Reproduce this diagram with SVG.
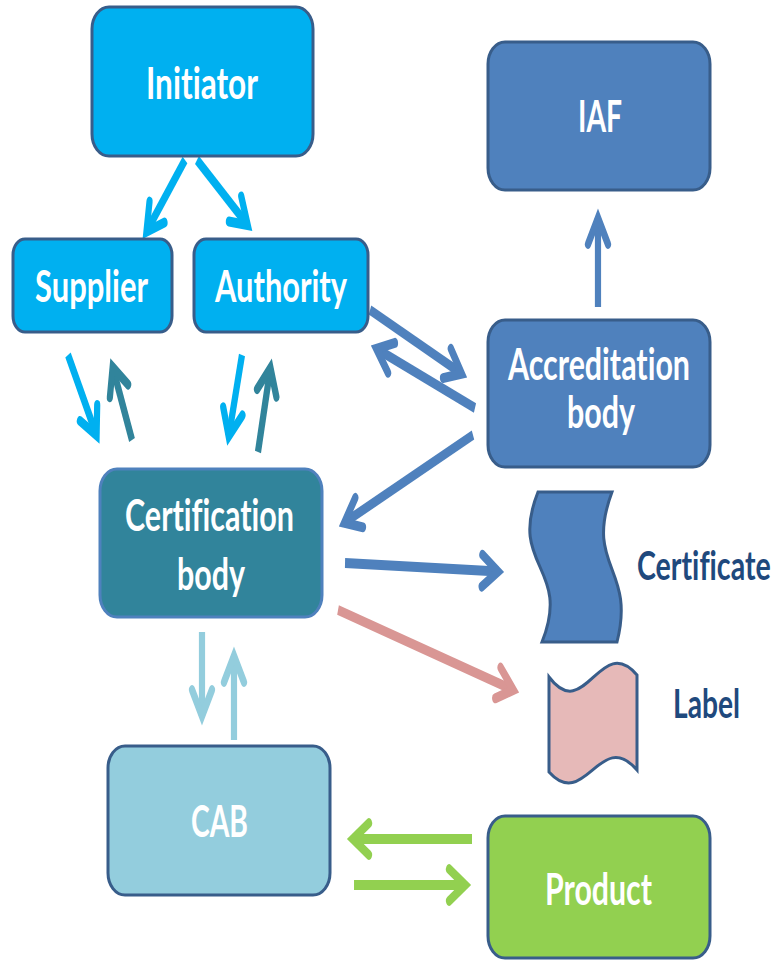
<svg xmlns="http://www.w3.org/2000/svg" width="784" height="961" viewBox="0 0 784 961">
<style>
.box{stroke:#385d8a;stroke-width:3}
.t{font-family:Lato,"Liberation Sans",sans-serif;font-weight:bold;font-size:43px;fill:#ffffff;font-variant-ligatures:none;font-feature-settings:"liga" 0,"clig" 0}
.d{font-family:Lato,"Liberation Sans",sans-serif;font-weight:bold;font-size:41px;fill:#1f497d;font-variant-ligatures:none;font-feature-settings:"liga" 0,"clig" 0}
.c{fill:none;stroke-width:10;stroke-linecap:butt}
.cy{stroke:#00b0f0;marker-end:url(#mCy)}
.tl{stroke:#31849b;marker-end:url(#mTl)}
.bl{stroke:#4f81bd;marker-end:url(#mBl)}
.pk{stroke:#d99694;marker-end:url(#mPk)}
.lb{stroke:#93cddd;marker-end:url(#mLb)}
.gr{stroke:#92d050;marker-end:url(#mGr)}
.mk{fill:none;stroke-width:10;stroke-linecap:round;stroke-linejoin:miter}
</style>
<defs>
<marker id="mCy" markerUnits="userSpaceOnUse" orient="auto" overflow="visible" refX="0" refY="0"><path class="mk" stroke="#00b0f0" d="M-26,-16 L0,0 L-26,16"/></marker>
<marker id="mTl" markerUnits="userSpaceOnUse" orient="auto" overflow="visible" refX="0" refY="0"><path class="mk" stroke="#31849b" d="M-26,-16 L0,0 L-26,16"/></marker>
<marker id="mBl" markerUnits="userSpaceOnUse" orient="auto" overflow="visible" refX="0" refY="0"><path class="mk" stroke="#4f81bd" d="M-26,-16 L0,0 L-26,16"/></marker>
<marker id="mPk" markerUnits="userSpaceOnUse" orient="auto" overflow="visible" refX="0" refY="0"><path class="mk" stroke="#d99694" d="M-26,-16 L0,0 L-26,16"/></marker>
<marker id="mLb" markerUnits="userSpaceOnUse" orient="auto" overflow="visible" refX="0" refY="0"><path class="mk" stroke="#93cddd" d="M-26,-16 L0,0 L-26,16"/></marker>
<marker id="mGr" markerUnits="userSpaceOnUse" orient="auto" overflow="visible" refX="0" refY="0"><path class="mk" stroke="#92d050" d="M-26,-16 L0,0 L-26,16"/></marker>
</defs>

<g id="connectors" transform="scale(0.62 1)">
<path class="c cy" d="M298.4,160 L236.2,231.7"/>
<path class="c cy" d="M317.7,160 L399.5,225.1"/>
<path class="c cy" d="M109.7,355 L155.8,435.5"/>
<path class="c tl" d="M212.9,440 L181.7,367.1"/>
<path class="c cy" d="M390.3,355 L368.9,436.4"/>
<path class="c tl" d="M416.1,452 L436.2,367.7"/>
<path class="c bl" d="M596.8,310 L744.7,373.7"/>
<path class="c bl" d="M766.1,408 L607.1,348.8"/>
<path class="c bl" d="M762.9,435 L555.3,522.7"/>
<path class="c bl" d="M964.5,307 L964.5,218"/>
<path class="c bl" d="M556.5,563 L803.5,571.6"/>
<path class="c pk" d="M545.2,610 L828.1,690"/>
<path class="c lb" d="M325.8,632 L325.8,716"/>
<path class="c lb" d="M377.4,740 L377.4,656"/>
<path class="c gr" d="M761.3,839 L569.1,839"/>
<path class="c gr" d="M571,885 L750.3,885"/>
</g>

<g id="initiator">
<rect class="box" x="92" y="7" width="221" height="149" rx="17" ry="22" fill="#00b0f0"/>
<text class="t" x="146" y="99" textLength="112" lengthAdjust="spacingAndGlyphs">Initiator</text>
</g>
<g id="supplier">
<rect class="box" x="13" y="239" width="159" height="93" rx="12" ry="16" fill="#00b0f0"/>
<text class="t" x="35" y="302" textLength="113" lengthAdjust="spacingAndGlyphs">Supplier</text>
</g>
<g id="authority">
<rect class="box" x="194" y="239" width="174" height="93" rx="12" ry="16" fill="#00b0f0"/>
<text class="t" x="215" y="302" textLength="132" lengthAdjust="spacingAndGlyphs">Authority</text>
</g>
<g id="iaf">
<rect class="box" x="488" y="42" width="222" height="148" rx="17" ry="22" fill="#4f81bd"/>
<text class="t" x="578" y="132" textLength="44" lengthAdjust="spacingAndGlyphs">IAF</text>
</g>
<g id="accreditation-body">
<rect class="box" x="488" y="320" width="222" height="147" rx="17" ry="22" fill="#4f81bd"/>
<text class="t" x="508" y="380" textLength="182" lengthAdjust="spacingAndGlyphs">Accreditation</text>
<text class="t" x="567" y="428" textLength="68" lengthAdjust="spacingAndGlyphs">body</text>
</g>
<g id="certification-body">
<rect x="100" y="469" width="222" height="148" rx="17" ry="22" fill="#31849b" stroke="#4f81bd" stroke-width="3"/>
<text class="t" x="125" y="531" textLength="169" lengthAdjust="spacingAndGlyphs">Certification</text>
<text class="t" x="177" y="590" textLength="68" lengthAdjust="spacingAndGlyphs">body</text>
</g>
<g id="cab">
<rect class="box" x="108" y="746" width="222" height="149" rx="17" ry="22" fill="#93cddd"/>
<text class="t" x="191" y="837" textLength="57" lengthAdjust="spacingAndGlyphs">CAB</text>
</g>
<g id="product">
<rect class="box" x="488" y="816" width="222" height="142" rx="17" ry="22" fill="#92d050"/>
<text class="t" x="545" y="905" textLength="107" lengthAdjust="spacingAndGlyphs">Product</text>
</g>
<g id="certificate">
<path class="box" fill="#4f81bd" d="M538,492 L612,492 C584,567 636,567 617,642 L542,642 C572,567 508,567 538,492 Z"/>
<text class="d" transform="translate(637 580) scale(0.7 1)" x="0" y="0" textLength="191" lengthAdjust="spacingAndGlyphs">Certificate</text>
</g>
<g id="label">
<path class="box" fill="#e6b9b8" d="M549,677 C585,725 600,632 637,675 L637,770 C600,727 585,812 549,772 Z"/>
<text class="d" x="673" y="718" textLength="67" lengthAdjust="spacingAndGlyphs">Label</text>
</g>
</svg>
